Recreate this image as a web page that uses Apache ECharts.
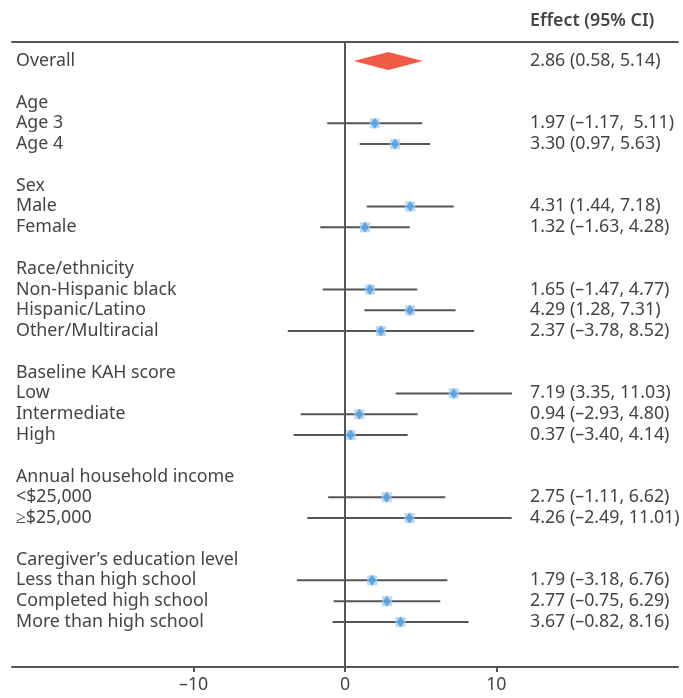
<!DOCTYPE html>
<html>
<head>
<meta charset="utf-8">
<script src="https://cdn.jsdelivr.net/npm/echarts@6/dist/echarts.min.js"></script>
<style>html,body{margin:0;padding:0;background:#fff}#c{width:683px;height:698px}</style>
</head>
<body>
<div id="c"></div>
<script>
const rowLabels = ['Overall', '', 'Age', 'Age 3', 'Age 4', '', 'Sex', 'Male', 'Female', '',
  'Race/ethnicity', 'Non-Hispanic black', 'Hispanic/Latino', 'Other/Multiracial', '',
  'Baseline KAH score', 'Low', 'Intermediate', 'High', '',
  'Annual household income', '<$25,000', '≥$25,000', '',
  'Caregiver’s education level', 'Less than high school', 'Completed high school', 'More than high school'];

const subgroups = ['Age 3', 'Age 4', 'Male', 'Female', 'Non-Hispanic black', 'Hispanic/Latino', 'Other/Multiracial',
  'Low', 'Intermediate', 'High', '<$25,000', '≥$25,000', 'Less than high school', 'Completed high school', 'More than high school'];
const estimates = [1.97, 3.30, 4.31, 1.32, 1.65, 4.29, 2.37, 7.19, 0.94, 0.37, 2.75, 4.26, 1.79, 2.77, 3.67];
const lower = [-1.17, 0.97, 1.44, -1.63, -1.47, 1.28, -3.78, 3.35, -2.93, -3.40, -1.11, -2.49, -3.18, -0.75, -0.82];
const upper = [5.11, 5.63, 7.18, 4.28, 4.77, 7.31, 8.52, 11.03, 4.80, 4.14, 6.62, 11.01, 6.76, 6.29, 8.16];

const overall = { label: 'Overall', est: 2.86, lo: 0.58, hi: 5.14 };

const ciTexts = {
  'Overall': '2.86 (0.58, 5.14)',
  'Age 3': '1.97 (–1.17,  5.11)',
  'Age 4': '3.30 (0.97, 5.63)',
  'Male': '4.31 (1.44, 7.18)',
  'Female': '1.32 (–1.63, 4.28)',
  'Non-Hispanic black': '1.65 (–1.47, 4.77)',
  'Hispanic/Latino': '4.29 (1.28, 7.31)',
  'Other/Multiracial': '2.37 (–3.78, 8.52)',
  'Low': '7.19 (3.35, 11.03)',
  'Intermediate': '0.94 (–2.93, 4.80)',
  'High': '0.37 (–3.40, 4.14)',
  '<$25,000': '2.75 (–1.11, 6.62)',
  '≥$25,000': '4.26 (–2.49, 11.01)',
  'Less than high school': '1.79 (–3.18, 6.76)',
  'Completed high school': '2.77 (–0.75, 6.29)',
  'More than high school': '3.67 (–0.82, 8.16)'
};

const xTicks = [-10, 0, 10];
const headerText = 'Effect (95% CI)';

const FONT = 'Noto Sans';
const FS = 17.8;
const TEXT = '#444';
const LINE = '#555';

const rowIdx = rowLabels.map((l, i) => i).filter(i => rowLabels[i] !== '');
const ciRows = rowLabels.map((l, i) => i).filter(i => ciTexts[rowLabels[i]] !== undefined);

const pts = subgroups.map((s, i) => [estimates[i], rowLabels.indexOf(s), lower[i], upper[i]]);
const ovRow = rowLabels.indexOf(overall.label);

const chart = echarts.init(document.getElementById('c'), null, { renderer: 'canvas' });
chart.setOption({
  animation: false,
  textStyle: { fontFamily: FONT },
  title: {
    text: headerText, left: 530, top: 12, padding: 0,
    textStyle: { fontFamily: FONT, fontSize: FS, fontWeight: 600, color: TEXT }
  },
  grid: { left: 12, right: 5, top: 42, bottom: 31 },
  xAxis: [{
    type: 'value', min: -22, max: 22, position: 'bottom',
    splitLine: { show: false },
    axisLine: { show: true, onZero: false, lineStyle: { color: LINE, width: 2 } },
    axisTick: { show: true, customValues: xTicks, length: 5, lineStyle: { color: LINE, width: 2 } },
    axisLabel: { customValues: xTicks, fontSize: FS, color: TEXT, margin: 9, fontFamily: FONT,
      formatter: v => String(v).replace('-', '–') }
  }, {
    type: 'value', min: -22, max: 22, position: 'top',
    splitLine: { show: false },
    axisLine: { show: true, onZero: false, lineStyle: { color: LINE, width: 2 } },
    axisTick: { show: false }, axisLabel: { show: false }
  }],
  yAxis: [{
    type: 'value', inverse: true, min: -0.914, max: 29.17, position: 'left',
    splitLine: { show: false }, axisLine: { show: false, onZero: false }, axisTick: { show: false },
    axisLabel: { inside: true, margin: 4, customValues: rowIdx, formatter: v => rowLabels[Math.round(v)] || '',
      fontSize: FS, color: TEXT, fontFamily: FONT, align: 'left' }
  }, {
    type: 'value', inverse: true, min: -0.914, max: 29.17, position: 'right', offset: -148,
    splitLine: { show: false }, axisLine: { show: false, onZero: false }, axisTick: { show: false },
    axisLabel: { margin: 0, customValues: ciRows, formatter: v => ciTexts[rowLabels[Math.round(v)]] || '',
      fontSize: FS, color: TEXT, fontFamily: FONT, align: 'left' }
  }],
  series: [{
    type: 'custom',
    name: 'ci',
    data: pts,
    renderItem: (params, api) => {
      const row = api.value(1);
      const a = api.coord([api.value(2), row]);
      const b = api.coord([api.value(3), row]);
      return { type: 'line', shape: { x1: a[0], y1: a[1], x2: b[0], y2: b[1] },
        style: { stroke: LINE, lineWidth: 2 } };
    },
    encode: { x: [2, 3], y: 1 },
    z: 2,
    markLine: {
      silent: true, symbol: 'none', label: { show: false },
      lineStyle: { color: LINE, width: 2, type: 'solid' },
      data: [{ xAxis: 0 }]
    }
  }, {
    type: 'scatter', data: pts.map(p => [p[0], p[1]]), symbol: 'rect', symbolSize: [10, 10],
    itemStyle: { color: '#a9d0f1' }, z: 3
  }, {
    type: 'scatter', data: pts.map(p => [p[0], p[1]]), symbol: 'diamond', symbolSize: [8, 11],
    itemStyle: { color: '#4a9be0' }, z: 4
  }, {
    type: 'custom',
    data: [[overall.est, ovRow, overall.lo, overall.hi]],
    encode: { x: [2, 3], y: 1 },
    renderItem: (params, api) => {
      const row = api.value(1);
      const l = api.coord([api.value(2), row]);
      const c = api.coord([api.value(0), row]);
      const r = api.coord([api.value(3), row]);
      const h = 9;
      return { type: 'polygon', shape: { points: [[l[0], l[1]], [c[0], c[1] - h], [r[0], r[1]], [c[0], c[1] + h]] },
        style: { fill: '#ef5b45' } };
    },
    z: 5
  }]
});
</script>
</body>
</html>
